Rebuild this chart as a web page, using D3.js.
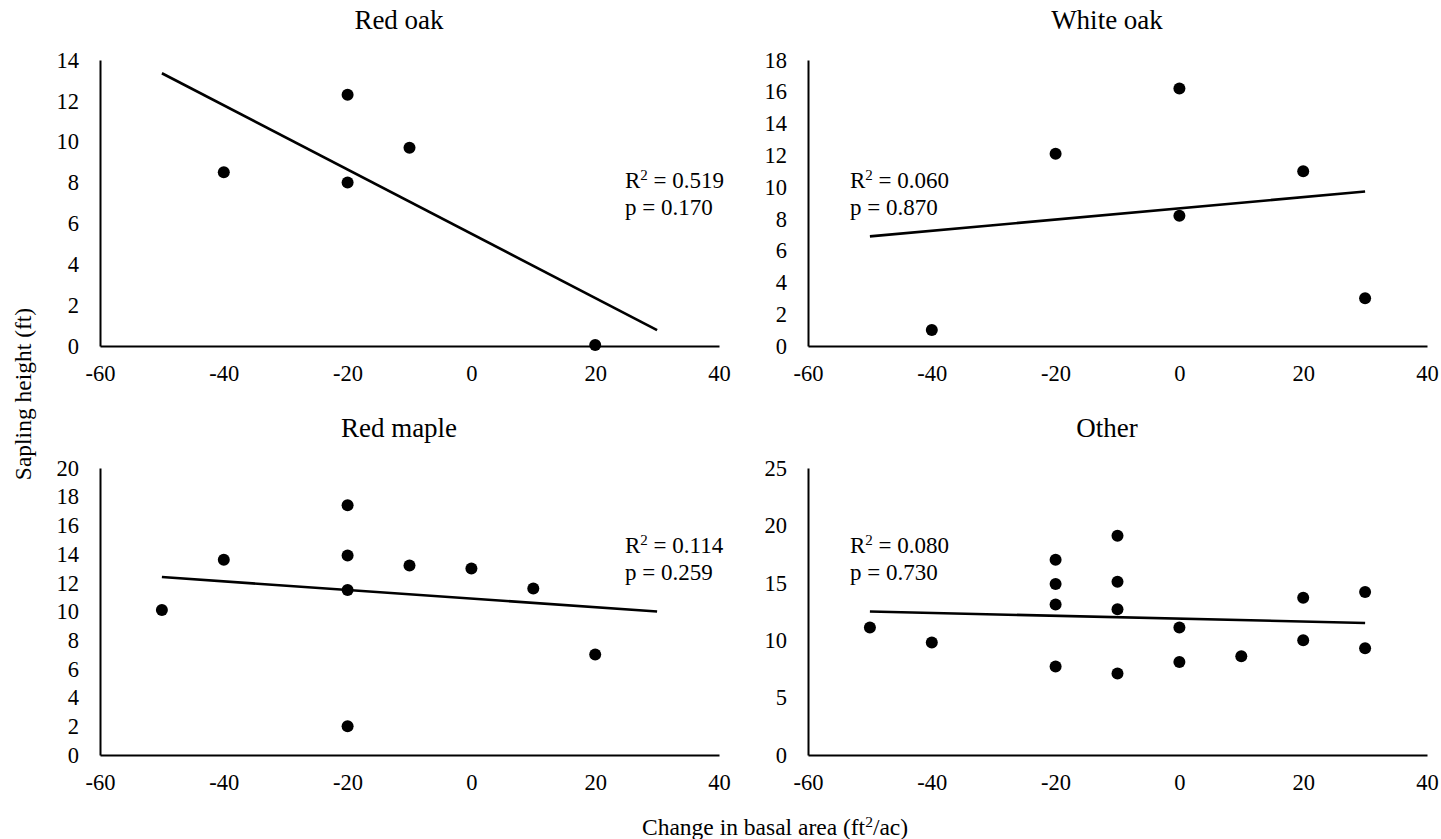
<!DOCTYPE html>
<html>
<head>
<meta charset="utf-8">
<script src="https://cdn.jsdelivr.net/npm/d3@7"></script>
<style>
  body { margin: 0; background: #fff; }
  svg { display: block; font-family: "Liberation Serif", "Times New Roman", serif; }
  .axis path { stroke: #000; stroke-width: 2; }
  .axis text { font-family: "Liberation Serif", "Times New Roman", serif; font-size: 22.5px; fill: #000; }
</style>
</head>
<body>
<div id="chart"></div>
<script>
// panel names and axis limits
var panelTitles = ["Red oak", "White oak", "Red maple", "Other"];
var yMax = [14, 18, 20, 25];
var yStep = [2, 2, 2, 5];
var xTicks = [-60, -40, -20, 0, 20, 40];

// change in basal area (x) and sapling height (y)
var redOakX = [-40, -20, -20, -10, 20];
var redOakY = [8.5, 12.3, 8.0, 9.7, 0.05];

var whiteOakX = [-40, -20, 0, 0, 20, 30];
var whiteOakY = [1.0, 12.1, 16.2, 8.2, 11.0, 3.0];

var redMapleX = [-50, -40, -20, -20, -20, -20, -10, 0, 10, 20];
var redMapleY = [10.1, 13.6, 17.4, 13.9, 11.5, 2.0, 13.2, 13.0, 11.6, 7.0];

var otherX = [-50, -40, -20, -20, -20, -20, -10, -10, -10, -10, 0, 0, 10, 20, 20, 30, 30];
var otherY = [11.1, 9.8, 17.0, 14.9, 13.1, 7.7, 19.1, 15.1, 12.7, 7.1, 11.1, 8.1, 8.6, 13.7, 10.0, 14.2, 9.3];

// trend line end points [x, y]
var trendRedOak = [[-50, 13.35], [30, 0.78]];
var trendWhiteOak = [[-50, 6.9], [30, 9.72]];
var trendRedMaple = [[-50, 12.4], [30, 10.0]];
var trendOther = [[-50, 12.5], [30, 11.5]];

// fit statistics
var r2Values = ["0.519", "0.060", "0.114", "0.080"];
var pValues = ["0.170", "0.870", "0.259", "0.730"];

var xs = [redOakX, whiteOakX, redMapleX, otherX];
var ys = [redOakY, whiteOakY, redMapleY, otherY];
var trends = [trendRedOak, trendWhiteOak, trendRedMaple, trendOther];

var width = 1441, height = 839;

var svg = d3.select("#chart")
  .append("svg")
  .attr("width", width)
  .attr("height", height);

// plot area boxes for the 2x2 grid
var plotW = 619;
var boxes = [
  {left: 100, top: 60, bottom: 346, noteX: 525},
  {left: 808, top: 60, bottom: 346, noteX: 42},
  {left: 100, top: 468, bottom: 755, noteX: 525},
  {left: 808, top: 468, bottom: 755, noteX: 42}
];
var noteDy = [128, 128, 85, 85];

boxes.forEach(function(b, i) {
  var x = d3.scaleLinear().domain([-60, 40]).range([b.left, b.left + plotW]);
  var y = d3.scaleLinear().domain([0, yMax[i]]).range([b.bottom, b.top]);

  var g = svg.append("g");

  // title
  g.append("text")
    .attr("x", b.left + 299)
    .attr("y", b.top - 31)
    .attr("text-anchor", "middle")
    .attr("font-size", 27)
    .text(panelTitles[i]);

  // axes
  g.append("g")
    .attr("class", "axis")
    .attr("transform", "translate(0," + b.bottom + ")")
    .call(d3.axisBottom(x).tickValues(xTicks).tickSize(0).tickPadding(19)
      .tickFormat(function(d) { return d.toString(); }));

  g.append("g")
    .attr("class", "axis")
    .attr("transform", "translate(" + b.left + ",0)")
    .call(d3.axisLeft(y).tickValues(d3.range(0, yMax[i] + 0.001, yStep[i])).tickSize(0).tickPadding(21)
      .tickFormat(function(d) { return d.toString(); }));

  // trend line
  g.append("path")
    .datum(trends[i])
    .attr("fill", "none")
    .attr("stroke", "#000")
    .attr("stroke-width", 2.6)
    .attr("d", d3.line().x(function(d) { return x(d[0]); }).y(function(d) { return y(d[1]); }));

  // points
  g.selectAll("circle")
    .data(xs[i].map(function(v, k) { return [v, ys[i][k]]; }))
    .enter()
    .append("circle")
    .attr("cx", function(d) { return x(d[0]); })
    .attr("cy", function(d) { return y(d[1]); })
    .attr("r", 6)
    .attr("fill", "#000");

  // R2 / p note
  var nx = b.left + b.noteX, ny = b.top + noteDy[i];
  var t1 = g.append("text").attr("x", nx).attr("y", ny).attr("font-size", 23);
  t1.append("tspan").text("R");
  t1.append("tspan").attr("font-size", 15).attr("dy", -8).text("2");
  t1.append("tspan").attr("dy", 8).text(" = " + r2Values[i]);
  g.append("text").attr("x", nx).attr("y", ny + 27).attr("font-size", 23)
    .text("p = " + pValues[i]);
});

// shared axis titles
svg.append("text")
  .attr("transform", "translate(31,394) rotate(-90)")
  .attr("text-anchor", "middle")
  .attr("font-size", 23.5)
  .text("Sapling height (ft)");

var xt = svg.append("text")
  .attr("x", 642)
  .attr("y", 835)
  .attr("font-size", 23.5);
xt.append("tspan").text("Change in basal area (ft");
xt.append("tspan").attr("font-size", 15.5).attr("dy", -8).text("2");
xt.append("tspan").attr("dy", 8).text("/ac)");
</script>
</body>
</html>
